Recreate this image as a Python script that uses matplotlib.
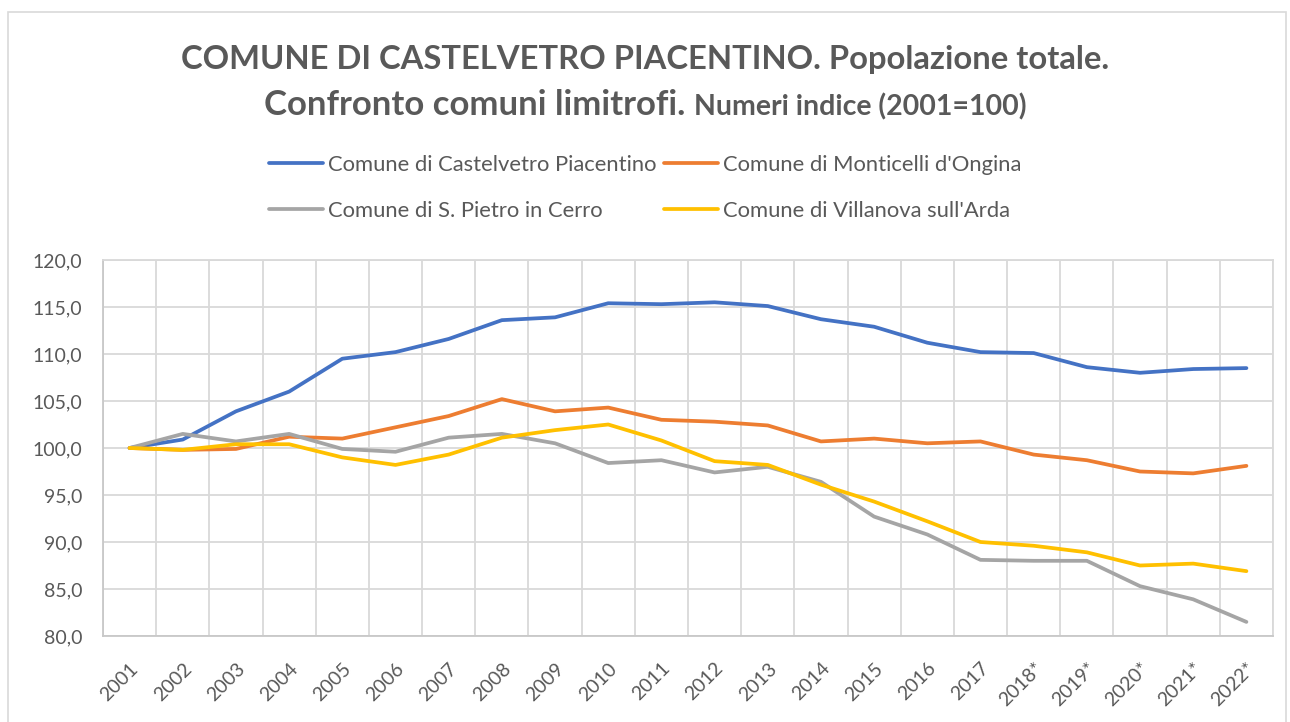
import matplotlib
matplotlib.use('Agg')
import matplotlib.pyplot as plt
from matplotlib.patches import Rectangle

plt.rcParams['font.family'] = ['Lato', 'DejaVu Sans']

anni = ['2001', '2002', '2003', '2004', '2005', '2006', '2007', '2008', '2009', '2010',
        '2011', '2012', '2013', '2014', '2015', '2016', '2017', '2018*', '2019*', '2020*',
        '2021*', '2022*']

castelvetro = [100.0, 100.9, 103.9, 106.0, 109.5, 110.2, 111.6, 113.6, 113.9, 115.4, 115.3,
               115.5, 115.1, 113.7, 112.9, 111.2, 110.2, 110.1, 108.6, 108.0, 108.4, 108.5]
monticelli = [100.0, 99.8, 99.9, 101.2, 101.0, 102.2, 103.4, 105.2, 103.9, 104.3, 103.0,
              102.8, 102.4, 100.7, 101.0, 100.5, 100.7, 99.3, 98.7, 97.5, 97.3, 98.1]
san_pietro = [100.0, 101.5, 100.7, 101.5, 99.9, 99.6, 101.1, 101.5, 100.5, 98.4, 98.7,
              97.4, 98.0, 96.4, 92.7, 90.8, 88.1, 88.0, 88.0, 85.3, 83.9, 81.5]
villanova = [100.0, 99.8, 100.4, 100.4, 99.0, 98.2, 99.3, 101.1, 101.9, 102.5, 100.8,
             98.6, 98.2, 96.1, 94.3, 92.2, 90.0, 89.6, 88.9, 87.5, 87.7, 86.9]

serie = [
    ('Comune di Castelvetro Piacentino', castelvetro, '#4472C4'),
    ("Comune di Monticelli d'Ongina", monticelli, '#ED7D31'),
    ('Comune di S. Pietro in Cerro', san_pietro, '#A5A5A5'),
    ("Comune di Villanova sull'Arda", villanova, '#FFC000'),
]

testo = '#595959'
griglia = '#D9D9D9'

fig = plt.figure(figsize=(12.9, 7.22), dpi=100)
ax = fig.add_axes([103/1290, 1 - 636/722, (1273-103)/1290, (636-260)/722])

x = list(range(len(anni)))
linee = []
for nome, valori, colore in serie:
    l, = ax.plot(x, valori, color=colore, lw=2.7, label=nome, solid_capstyle='round')
    linee.append(l)

ax.set_xlim(-0.5, len(anni) - 0.5)
ax.set_ylim(80, 120)
ax.set_yticks(range(80, 121, 5))
ax.set_yticklabels([f'{v},0' for v in range(80, 121, 5)], fontsize=14, color=testo)
ax.set_xticks(x)
ax.set_xticklabels(anni, rotation=45, ha='right', rotation_mode='anchor',
                   fontsize=14, color=testo)
ax.set_xticks([i + 0.5 for i in range(-1, len(anni))], minor=True)
ax.tick_params(which='both', length=0)
ax.tick_params(axis='y', pad=15)
ax.tick_params(axis='x', pad=17)
ax.grid(True, which='major', axis='y', color=griglia, lw=1.3)
ax.grid(True, which='minor', axis='x', color=griglia, lw=1.3)
ax.set_axisbelow(True)
for s in ax.spines.values():
    s.set_color(griglia)
    s.set_linewidth(1.3)
ax.spines['bottom'].set_color('#C8C8C8')
ax.spines['left'].set_color('#C8C8C8')

# legenda per righe: matplotlib riempie per colonne
ordine = [0, 2, 1, 3]
fig.legend([linee[i] for i in ordine], [serie[i][0] for i in ordine],
           loc='center', bbox_to_anchor=(0.5, 1 - 188/722), ncol=2, frameon=False,
           fontsize=15.8, labelcolor=testo, handlelength=2.45, handletextpad=0.23,
           columnspacing=0.36, labelspacing=1.2)

# titolo
fig.text(0.5, 1 - 60/722, 'COMUNE DI CASTELVETRO PIACENTINO. Popolazione totale.',
         ha='center', va='center', fontsize=23.6, fontweight='bold', color=testo)
t1 = fig.text(0, 1 - 115/722, 'Confronto comuni limitrofi. ', ha='left', va='baseline',
              fontsize=25, fontweight='bold', color=testo)
t2 = fig.text(0, 1 - 115/722, 'Numeri indice (2001=100)', ha='left', va='baseline',
              fontsize=20.5, fontweight='bold', color=testo)
fig.canvas.draw()
r = fig.canvas.get_renderer()
w1 = t1.get_window_extent(r).width / fig.bbox.width
w2 = t2.get_window_extent(r).width / fig.bbox.width
x0 = 0.5 - (w1 + w2) / 2
t1.set_x(x0)
t2.set_x(x0 + w1)

fig.patches.append(Rectangle((8/1290, -0.01), 1278/1290, 1 - 12/722 + 0.01,
                             transform=fig.transFigure, fill=False,
                             edgecolor=griglia, lw=1.2))

fig.savefig('out.png', dpi=100)
